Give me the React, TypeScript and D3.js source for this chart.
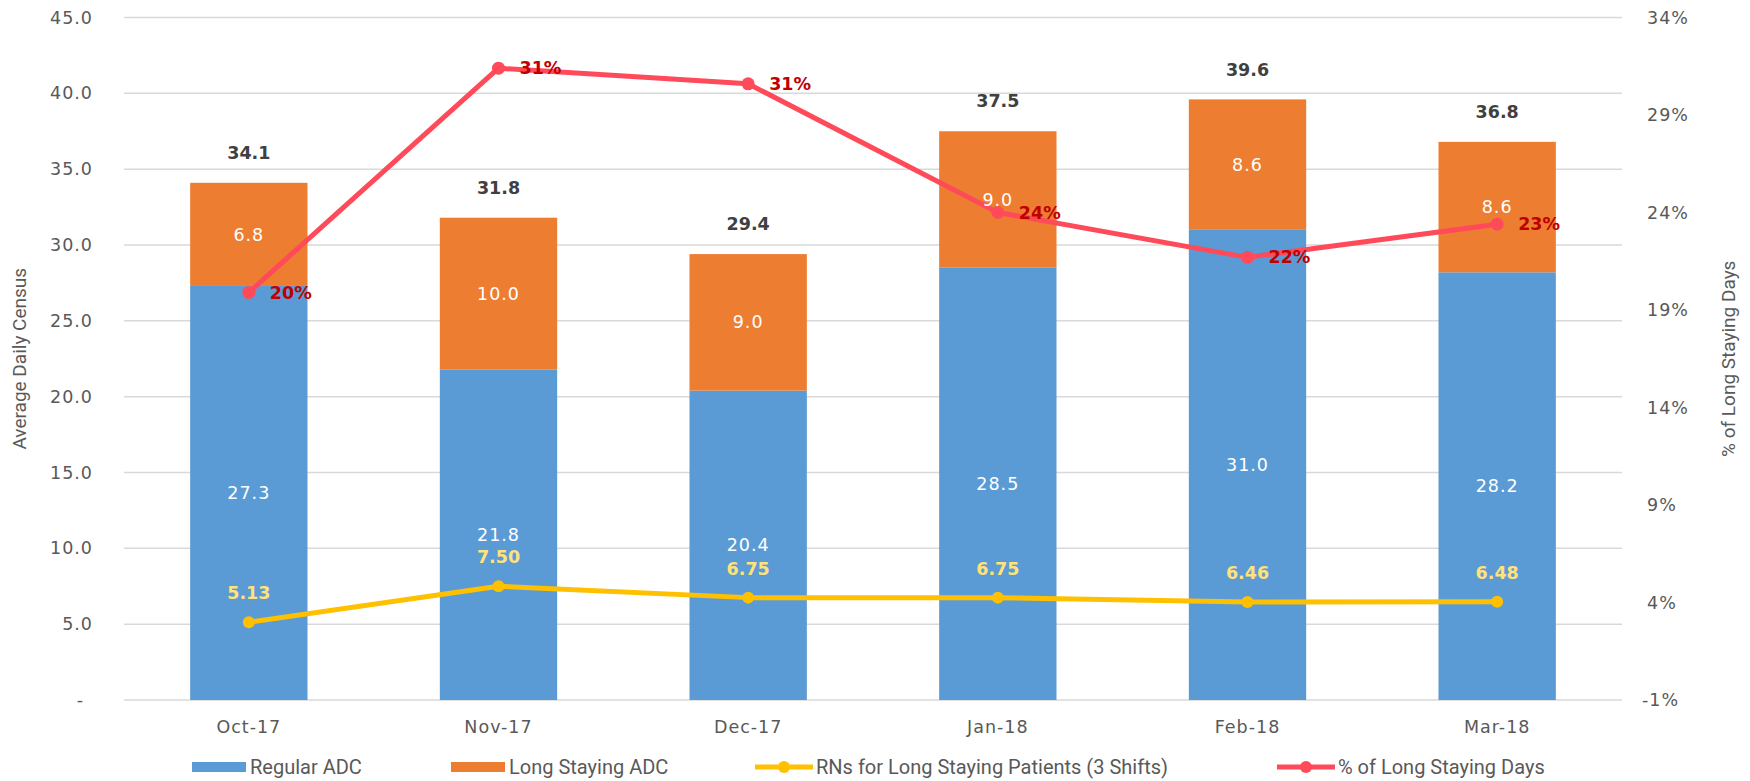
import * as d3 from 'd3';
import React, { useEffect, useRef } from 'react';

const months = ['Oct-17', 'Nov-17', 'Dec-17', 'Jan-18', 'Feb-18', 'Mar-18'];
const regularAdc = [27.3, 21.8, 20.4, 28.5, 31.0, 28.2];
const longStayAdc = [6.8, 10.0, 9.0, 9.0, 8.6, 8.6];
const totalAdc = [34.1, 31.8, 29.4, 37.5, 39.6, 36.8];
const rnsLongStay = [5.13, 7.5, 6.75, 6.75, 6.46, 6.48];
const pctLongStay = [0.199, 0.314, 0.306, 0.24, 0.217, 0.234];
const leftTicks = [0, 5, 10, 15, 20, 25, 30, 35, 40, 45];
const rightTicks = [-0.01, 0.04, 0.09, 0.14, 0.19, 0.24, 0.29, 0.34];
const legendItems = ['Regular ADC', 'Long Staying ADC', 'RNs for Long Staying Patients (3 Shifts)', '% of Long Staying Days'];

const BLUE = '#5b9bd5';
const ORANGE = '#ed7d31';
const GOLD = '#ffc000';
const RED = '#ff4a5a';
const DARK_RED = '#c00000';
const GRID = '#d9d9d9';
const AXIS_TEXT = '#595959';
const NUM_FONT = '"DejaVu Sans", sans-serif';
const TXT_FONT = 'Roboto, sans-serif';

// plain hyphen for negatives, like the original
const fmtPct = (v: number) => d3.format('.0%')(v).replace('\u2212', '-');

const App = () => {
    const ref = useRef<SVGSVGElement>(null);

    useEffect(() => {
        const width = 1750;
        const height = 781;
        const margin = { top: 17.5, right: 128, bottom: 81, left: 124 };

        const svg = d3.select(ref.current);
        svg.selectAll('*').remove();
        svg.attr('width', width).attr('height', height);

        svg.append('rect').attr('width', width).attr('height', height).attr('fill', '#fff');

        const x = d3.scaleBand<string>()
            .domain(months)
            .range([margin.left, width - margin.right])
            .paddingInner(0.53)
            .paddingOuter(0.265);

        const y = d3.scaleLinear()
            .domain([0, 45])
            .range([height - margin.bottom, margin.top]);

        const yPct = d3.scaleLinear()
            .domain([-0.01, 0.34])
            .range([height - margin.bottom, margin.top]);

        const cx = (m: string) => (x(m) as number) + x.bandwidth() / 2;

        // gridlines
        svg.append('g')
            .selectAll('line')
            .data(leftTicks)
            .join('line')
            .attr('x1', margin.left)
            .attr('x2', width - margin.right)
            .attr('y1', d => y(d))
            .attr('y2', d => y(d))
            .attr('stroke', GRID)
            .attr('stroke-width', 1.5);

        // left axis labels
        svg.append('g')
            .selectAll('text')
            .data(leftTicks)
            .join('text')
            .attr('x', d => (d === 0 ? 84 : 93))
            .attr('y', d => y(d))
            .attr('dy', '0.35em')
            .attr('text-anchor', 'end')
            .attr('font-family', NUM_FONT)
            .attr('font-size', 17.5)
            .attr('letter-spacing', 1)
            .attr('fill', AXIS_TEXT)
            .text(d => (d === 0 ? '-' : d3.format('.1f')(d)));

        // right axis labels
        svg.append('g')
            .selectAll('text')
            .data(rightTicks)
            .join('text')
            .attr('x', d => (d < 0 ? 1642 : 1647))
            .attr('y', d => yPct(d))
            .attr('dy', '0.35em')
            .attr('font-family', NUM_FONT)
            .attr('font-size', 17.5)
            .attr('letter-spacing', 1)
            .attr('fill', AXIS_TEXT)
            .text(d => fmtPct(d));

        // axis titles
        svg.append('text')
            .attr('transform', `translate(26, ${y(22.5)}) rotate(-90)`)
            .attr('text-anchor', 'middle')
            .attr('font-family', TXT_FONT)
            .attr('font-size', 19)
            .attr('fill', AXIS_TEXT)
            .text('Average Daily Census');

        svg.append('text')
            .attr('transform', `translate(1735, ${y(22.5)}) rotate(-90)`)
            .attr('text-anchor', 'middle')
            .attr('font-family', TXT_FONT)
            .attr('font-size', 19)
            .attr('fill', AXIS_TEXT)
            .text('% of Long Staying Days');

        // category labels
        svg.append('g')
            .selectAll('text')
            .data(months)
            .join('text')
            .attr('x', d => cx(d))
            .attr('y', 727)
            .attr('dy', '0.35em')
            .attr('text-anchor', 'middle')
            .attr('font-family', NUM_FONT)
            .attr('font-size', 17.5)
            .attr('letter-spacing', 1)
            .attr('fill', AXIS_TEXT)
            .text(d => d);

        // stacked bars
        const bars = svg.append('g');
        months.forEach((m, i) => {
            const r = regularAdc[i];
            const l = longStayAdc[i];
            bars.append('rect')
                .attr('x', x(m) as number)
                .attr('y', y(r))
                .attr('width', x.bandwidth())
                .attr('height', y(0) - y(r))
                .attr('fill', BLUE);
            bars.append('rect')
                .attr('x', x(m) as number)
                .attr('y', y(r + l))
                .attr('width', x.bandwidth())
                .attr('height', y(r) - y(r + l))
                .attr('fill', ORANGE);
        });

        // RNs line
        const rnLine = d3.line<number>()
            .x((d, i) => cx(months[i]))
            .y(d => y(d));
        svg.append('path')
            .datum(rnsLongStay)
            .attr('d', rnLine)
            .attr('fill', 'none')
            .attr('stroke', GOLD)
            .attr('stroke-width', 5)
            .attr('stroke-linejoin', 'round');
        svg.append('g')
            .selectAll('circle')
            .data(rnsLongStay)
            .join('circle')
            .attr('cx', (d, i) => cx(months[i]))
            .attr('cy', d => y(d))
            .attr('r', 6)
            .attr('fill', GOLD);

        // % line
        const pctLine = d3.line<number>()
            .x((d, i) => cx(months[i]))
            .y(d => yPct(d));
        svg.append('path')
            .datum(pctLongStay)
            .attr('d', pctLine)
            .attr('fill', 'none')
            .attr('stroke', RED)
            .attr('stroke-width', 5)
            .attr('stroke-linejoin', 'round');
        svg.append('g')
            .selectAll('circle')
            .data(pctLongStay)
            .join('circle')
            .attr('cx', (d, i) => cx(months[i]))
            .attr('cy', d => yPct(d))
            .attr('r', 6.5)
            .attr('fill', RED);

        // data labels
        const labels = svg.append('g').attr('font-family', NUM_FONT);
        months.forEach((m, i) => {
            const r = regularAdc[i];
            const l = longStayAdc[i];
            labels.append('text')
                .attr('x', cx(m))
                .attr('y', y(r / 2))
                .attr('dy', '0.35em')
                .attr('text-anchor', 'middle')
                .attr('font-size', 17.5)
                .attr('letter-spacing', 1)
                .attr('fill', '#fff')
                .text(d3.format('.1f')(r));
            labels.append('text')
                .attr('x', cx(m))
                .attr('y', y(r + l / 2))
                .attr('dy', '0.35em')
                .attr('text-anchor', 'middle')
                .attr('font-size', 17.5)
                .attr('letter-spacing', 1)
                .attr('fill', '#fff')
                .text(d3.format('.1f')(l));
            labels.append('text')
                .attr('x', cx(m))
                .attr('y', y(r + l) - 30)
                .attr('dy', '0.35em')
                .attr('text-anchor', 'middle')
                .attr('font-size', 17.5)
                .attr('font-weight', 'bold')
                .attr('fill', '#404040')
                .text(d3.format('.1f')(totalAdc[i]));
            labels.append('text')
                .attr('x', cx(m))
                .attr('y', y(rnsLongStay[i]) - 29)
                .attr('dy', '0.35em')
                .attr('text-anchor', 'middle')
                .attr('font-size', 17.5)
                .attr('font-weight', 'bold')
                .attr('fill', '#ffe27a')
                .text(d3.format('.2f')(rnsLongStay[i]));
            labels.append('text')
                .attr('x', cx(m) + 21)
                .attr('y', yPct(pctLongStay[i]))
                .attr('dy', '0.35em')
                .attr('font-size', 17.5)
                .attr('font-weight', 'bold')
                .attr('fill', DARK_RED)
                .text(fmtPct(pctLongStay[i]));
        });

        // legend
        const legendY = 767;
        const legend = svg.append('g')
            .attr('font-family', TXT_FONT)
            .attr('font-size', 20)
            .attr('fill', AXIS_TEXT);
        const itemX = [192, 451, 755, 1277];
        legendItems.forEach((name, i) => {
            const g = legend.append('g').attr('transform', `translate(${itemX[i]}, ${legendY})`);
            if (i < 2) {
                g.append('rect')
                    .attr('x', 0)
                    .attr('y', -5)
                    .attr('width', 54)
                    .attr('height', 10)
                    .attr('fill', i === 0 ? BLUE : ORANGE);
            } else {
                const c = i === 2 ? GOLD : RED;
                g.append('line')
                    .attr('x1', 0)
                    .attr('x2', 58)
                    .attr('stroke', c)
                    .attr('stroke-width', 5);
                g.append('circle')
                    .attr('cx', 29)
                    .attr('r', 6)
                    .attr('fill', c);
            }
            g.append('text')
                .attr('x', i < 2 ? 58 : 61)
                .attr('dy', '0.35em')
                .text(name);
        });
    }, []);

    return <svg ref={ref} style={{ position: 'absolute', left: 0, top: 0 }}></svg>;
};

export default App;
